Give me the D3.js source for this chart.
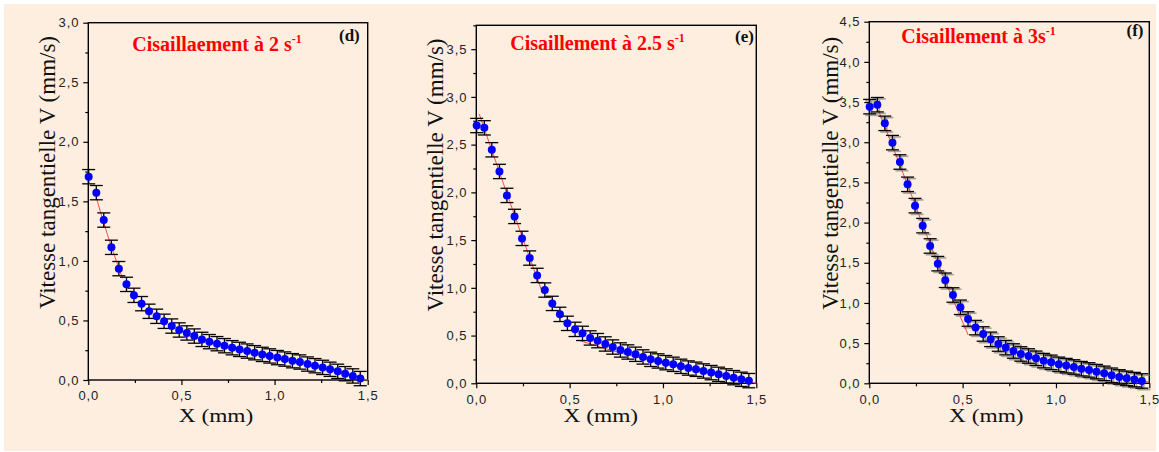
<!DOCTYPE html>
<html>
<head>
<meta charset="utf-8">
<script src="https://cdn.jsdelivr.net/npm/d3@7"></script>
<style>
  html, body { margin: 0; padding: 0; background: #ffffff; }
  svg { display: block; }
  .tick text { font-family: "Liberation Sans", Arial, sans-serif; font-size: 13px; fill: #222; letter-spacing: 0.9px; }
</style>
</head>
<body>
<svg id="chart" width="1159" height="452"></svg>
<script>
// ---------------- DATA ----------------
const xPos = [0.002, 0.043, 0.083, 0.124, 0.164, 0.205, 0.245, 0.286, 0.326, 0.367,
              0.407, 0.448, 0.488, 0.529, 0.569, 0.610, 0.650, 0.691, 0.731, 0.772,
              0.812, 0.853, 0.893, 0.934, 0.974, 1.015, 1.055, 1.096, 1.136, 1.177,
              1.217, 1.258, 1.298, 1.339, 1.379, 1.420, 1.460];

const vD = [1.707, 1.573, 1.343, 1.114, 0.935, 0.803, 0.711, 0.641, 0.577, 0.535,
            0.493, 0.453, 0.420, 0.395, 0.369, 0.341, 0.322, 0.305, 0.288, 0.271,
            0.257, 0.243, 0.229, 0.215, 0.202, 0.188, 0.176, 0.162, 0.151, 0.134,
            0.120, 0.106, 0.090, 0.073, 0.053, 0.034, 0.012];

const vE = [2.700, 2.676, 2.446, 2.219, 1.968, 1.748, 1.518, 1.312, 1.130, 0.977,
            0.837, 0.722, 0.628, 0.565, 0.523, 0.475, 0.447, 0.412, 0.380, 0.349,
            0.328, 0.304, 0.276, 0.251, 0.234, 0.216, 0.199, 0.178, 0.160, 0.147,
            0.129, 0.112, 0.094, 0.077, 0.059, 0.042, 0.028];

const vF = [3.443, 3.467, 3.235, 2.995, 2.754, 2.476, 2.211, 1.962, 1.709, 1.489,
            1.282, 1.099, 0.946, 0.800, 0.693, 0.614, 0.547, 0.489, 0.444, 0.402,
            0.365, 0.340, 0.311, 0.282, 0.261, 0.236, 0.220, 0.203, 0.182, 0.166,
            0.145, 0.124, 0.100, 0.079, 0.062, 0.046, 0.029];

// error (± mm/s) per panel
const errD = 0.06, errE = 0.075, errF = 0.09;

// fitted curves (two segments per panel)
const fitDx1 = [0.045, 0.085, 0.125, 0.184], fitDy1 = [1.52, 1.31, 1.115, 0.855];
const fitDx2 = [0.52, 0.75, 1.0, 1.25, 1.5],  fitDy2 = [0.38, 0.28, 0.19, 0.11, 0.0];
const fitEx1 = [0.016, 0.234, 0.356],         fitEy1 = [2.82, 1.60, 0.94];
const fitEx2 = [0.55, 0.75, 1.0, 1.25, 1.5],  fitEy2 = [0.45, 0.33, 0.21, 0.11, 0.0];
const fitFx1 = [0.048, 0.20, 0.325, 0.53],    fitFy1 = [3.40, 2.50, 1.74, 0.60];
const fitFx2 = [0.70, 0.9, 1.1, 1.3, 1.5],    fitFy2 = [0.46, 0.31, 0.205, 0.105, 0.015];

const xTicks = [0, 0.5, 1.0, 1.5];
const xMinor = [0.25, 0.75, 1.25];
const yTicksD = [0, 0.5, 1.0, 1.5, 2.0, 2.5, 3.0];
const yTicksE = [0, 0.5, 1.0, 1.5, 2.0, 2.5, 3.0, 3.5];
const yTicksF = [0, 0.5, 1.0, 1.5, 2.0, 2.5, 3.0, 3.5, 4.0, 4.5];
const yMinorD = [0.25, 0.75, 1.25, 1.75, 2.25, 2.75];
const yMinorE = [0.25, 0.75, 1.25, 1.75, 2.25, 2.75, 3.25, 3.75];
const yMinorF = [0.25, 0.75, 1.25, 1.75, 2.25, 2.75, 3.25, 3.75, 4.25];

const titles = ["Cisaillaement à 2 s", "Cisaillement à 2.5 s", "Cisaillement à 3s"];
const tags = ["(d)", "(e)", "(f)"];
const yTitle = "Vitesse tangentielle V (mm/s)";
const xTitle = "X (mm)";

// ---------------- LAYOUT ----------------
const panels = [
  { v: vD, err: errD, yMax: 3.0,  yTicks: yTicksD, yMinor: yMinorD,
    fits: [[fitDx1, fitDy1], [fitDx2, fitDy2]],
    box: { l: 88.3, r: 367.7, t: 22.7, b: 380 },
    titleX: 44, titleY: 50.5, tagX: 339, tagY: 40.5, yTitleX: 41.5, yTitleY: 172.5, xTitleDx: -12, shadow: false },
  { v: vE, err: errE, yMax: 3.75, yTicks: yTicksE, yMinor: yMinorE,
    fits: [[fitEx1, fitEy1], [fitEx2, fitEy2]],
    box: { l: 476.3, r: 756.3, t: 25.3, b: 383.3 },
    titleX: 34, titleY: 50, tagX: 735, tagY: 41.5, yTitleX: 41.3, yTitleY: 175, xTitleDx: -15.5, shadow: false },
  { v: vF, err: errF, yMax: 4.5,  yTicks: yTicksF, yMinor: yMinorF,
    fits: [[fitFx1, fitFy1], [fitFx2, fitFy2]],
    box: { l: 869.3, r: 1149.3, t: 21.7, b: 383.3 },
    titleX: 32, titleY: 42.5, tagX: 1126.5, tagY: 36, yTitleX: 39.3, yTitleY: 173.3, xTitleDx: -23, shadow: true }
];

const svg = d3.select("#chart");
svg.append("rect").attr("x", 4).attr("y", 4).attr("width", 1152).attr("height", 447)
   .attr("fill", "#fdeee0");

const fmt = d => d3.format(".1f")(d).replace(".", ",");

panels.forEach((p, i) => {
  const B = p.box;
  const x = d3.scaleLinear().domain([0, 1.5]).range([B.l, B.r]);
  const y = d3.scaleLinear().domain([0, p.yMax]).range([B.b, B.t]);
  const g = svg.append("g");

  // axes
  g.append("g").attr("transform", `translate(${B.l},0)`)
    .call(d3.axisLeft(y).tickValues(p.yTicks).tickFormat(fmt).tickSize(5).tickSizeOuter(0).tickPadding(4));
  g.append("g").attr("transform", `translate(${B.l},0)`)
    .call(d3.axisLeft(y).tickValues(p.yMinor).tickFormat("").tickSize(3).tickSizeOuter(0));
  g.append("g").attr("transform", `translate(0,${B.b})`)
    .call(d3.axisBottom(x).tickValues(xTicks).tickFormat(fmt).tickSize(5).tickSizeOuter(0).tickPadding(6));
  g.append("g").attr("transform", `translate(0,${B.b})`)
    .call(d3.axisBottom(x).tickValues(xMinor).tickFormat("").tickSize(3).tickSizeOuter(0));
  g.selectAll(".domain").remove();
  g.selectAll(".tick line").attr("stroke", "#000").attr("stroke-width", 1.2);

  // frame
  g.append("rect").attr("x", B.l).attr("y", B.t).attr("width", B.r - B.l).attr("height", B.b - B.t)
    .attr("fill", "none").attr("stroke", "#000").attr("stroke-width", 1.4);

  // fit lines
  const line = d3.line().x(d => x(d[0])).y(d => y(d[1])).curve(d3.curveMonotoneX);
  p.fits.forEach(([fx, fy]) => {
    g.append("path").datum(fx.map((v, k) => [v, fy[k]]))
      .attr("d", line).attr("fill", "none").attr("stroke", "#ff4a4a").attr("stroke-width", 1);
  });

  const pts = xPos.map((xv, k) => ({ x: xv, v: p.v[k] }));

  // error bars
  const drawErr = (sel, color, width, op) => {
    const eg = sel.selectAll(null).data(pts).enter().append("g")
      .attr("stroke", color).attr("stroke-width", width).attr("opacity", op);
    eg.append("line").attr("x1", d => x(d.x)).attr("x2", d => x(d.x))
      .attr("y1", d => y(d.v - p.err)).attr("y2", d => y(d.v + p.err));
    eg.append("line").attr("x1", d => x(d.x) - 6.5).attr("x2", d => x(d.x) + 6.5)
      .attr("y1", d => y(d.v + p.err)).attr("y2", d => y(d.v + p.err));
    eg.append("line").attr("x1", d => x(d.x) - 6.5).attr("x2", d => x(d.x) + 6.5)
      .attr("y1", d => y(d.v - p.err)).attr("y2", d => y(d.v - p.err));
  };
  if (p.shadow) {
    const sh = g.append("g").attr("transform", "translate(2,1.5)");
    drawErr(sh, "#6e6e6e", 1.6, 0.6);
  }
  drawErr(g, "#000", 1.3, 1);

  // points
  g.selectAll("circle.pt").data(pts).enter().append("circle")
    .attr("cx", d => x(d.x)).attr("cy", d => y(d.v)).attr("r", 4)
    .attr("fill", "#0000ff");

  // title
  const t = g.append("text").attr("x", B.l + p.titleX).attr("y", p.titleY)
    .attr("font-family", "'Liberation Serif', 'Times New Roman', serif")
    .attr("font-weight", "bold").attr("font-size", 20).attr("fill", "#ff0000")
    .text(titles[i]);
  t.append("tspan").attr("dy", -8).attr("font-size", 12).text("-1");

  g.append("text").attr("x", p.tagX).attr("y", p.tagY)
    .attr("font-family", "'Liberation Serif', 'Times New Roman', serif")
    .attr("font-weight", "bold").attr("font-size", 17).attr("fill", "#111")
    .text(tags[i]);

  // axis titles
  g.append("text")
    .attr("transform", `translate(${B.l - p.yTitleX},${p.yTitleY}) rotate(-90)`)
    .attr("text-anchor", "middle").attr("dy", "0.35em")
    .attr("font-family", "'Liberation Serif', 'Times New Roman', serif")
    .attr("font-size", 23).attr("fill", "#111").text(yTitle);
  g.append("text")
    .attr("transform", `translate(${(B.l + B.r) / 2 + p.xTitleDx},422) scale(1.2,1)`)
    .attr("text-anchor", "middle")
    .attr("font-family", "'Liberation Serif', 'Times New Roman', serif")
    .attr("font-size", 19.5).attr("fill", "#111").text(xTitle);
});
</script>
</body>
</html>
